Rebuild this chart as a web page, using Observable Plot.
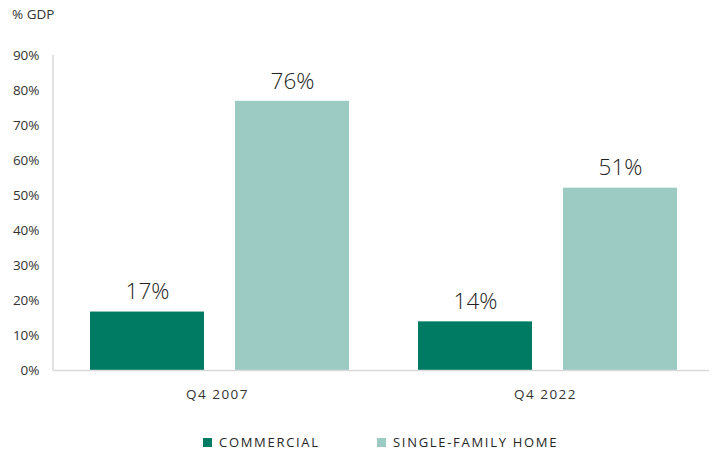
<!DOCTYPE html>
<html>
<head>
<meta charset="utf-8">
<script src="https://cdn.jsdelivr.net/npm/d3@7"></script>
<script src="https://cdn.jsdelivr.net/npm/@observablehq/plot@0.6"></script>
<style>
  html, body { margin: 0; padding: 0; background: #fff; }
  body { width: 717px; height: 453px; font-family: "Open Sans", "Noto Sans", sans-serif; color: #333; position: relative; overflow: hidden; }
  #unit { height: 30px; position: relative; }
  #unit span { position: absolute; left: 12px; top: 6px; font-size: 13.5px; line-height: 16px; color: #333; }
  #legend { height: 43px; position: relative; }
  .item { position: absolute; top: 24px; display: flex; align-items: center; font-size: 13px; letter-spacing: 1.7px; color: #262626; line-height: 16px; }
  .sw { width: 9px; height: 9px; margin-right: 7px; }
  [aria-label^="fx-axis"] text { letter-spacing: 1.5px; }
</style>
</head>
<body>
<div id="unit"><span>% GDP</span></div>
<div id="chart"></div>
<div id="legend"></div>
<script>
const periods = ["Q4 2007", "Q4 2022"];
const series = ["COMMERCIAL", "SINGLE-FAMILY HOME"];
const colors = ["#007b63", "#9bcbc3"];
const commercial = [16.7, 13.9];
const singleFamily = [76.9, 52.1];
const commercialLabels = ["17%", "14%"];
const singleFamilyLabels = ["76%", "51%"];
const yTicks = [0, 10, 20, 30, 40, 50, 60, 70, 80, 90];

const rows = [];
periods.forEach((p, i) => {
  rows.push({period: p, series: series[0], value: commercial[i], label: commercialLabels[i]});
  rows.push({period: p, series: series[1], value: singleFamily[i], label: singleFamilyLabels[i]});
});

const marginLeft = 53;
const plot = Plot.plot({
  width: 717,
  height: 380,
  marginTop: 25,
  marginBottom: 40,
  marginLeft: marginLeft,
  marginRight: 8,
  style: {fontFamily: '"Open Sans", "Noto Sans", sans-serif', fontSize: "13.5px", color: "#333", background: "transparent"},
  facet: {data: rows, x: "period"},
  fx: {domain: periods, padding: 0, axis: "bottom", label: null, tickSize: 0, tickPadding: 19},
  x: {domain: series, axis: null, paddingInner: 0.2138, paddingOuter: 0.2379, align: 0.54},
  y: {domain: [0, 90], ticks: yTicks, tickFormat: d => d + "%", tickSize: 0, tickPadding: 14, label: null, grid: false},
  color: {domain: series, range: colors},
  marks: [
    Plot.barY(rows, {x: "series", y: "value", fill: "series"}),
    Plot.text(rows, {x: "series", y: "value", text: "label", dy: -20, fontSize: 22.5, fill: "#222", fontWeight: 300}),
    Plot.ruleY([0], {stroke: "#d9d9d9", strokeWidth: 1.5})
  ]
});
document.getElementById("chart").appendChild(plot);

// vertical axis line derived from the y scale
const ys = plot.scale("y");
const yy = d3.scaleLinear(ys.domain, ys.range);
d3.select(plot).append("line")
  .attr("x1", marginLeft).attr("x2", marginLeft)
  .attr("y1", yy(0)).attr("y2", yy(90))
  .attr("stroke", "#d9d9d9").attr("stroke-width", 1.5);

const legend = document.getElementById("legend");
const lefts = [203, 377];
series.forEach((s, i) => {
  const it = document.createElement("div");
  it.className = "item";
  it.style.left = lefts[i] + "px";
  it.innerHTML = `<div class="sw" style="background:${colors[i]}"></div><span>${s}</span>`;
  legend.appendChild(it);
});
</script>
</body>
</html>
